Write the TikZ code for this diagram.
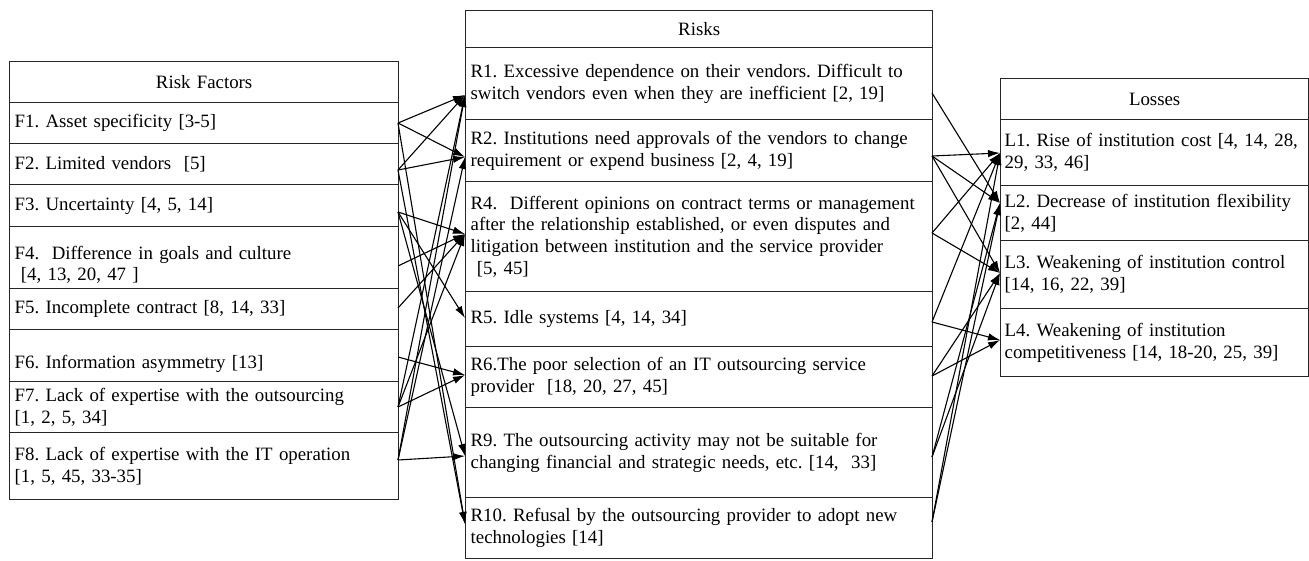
\documentclass[tikz,border=0pt]{standalone}
\usepackage{fontspec}
\setmainfont{Liberation Serif}
\usetikzlibrary{arrows.meta}
\frenchspacing
\begin{document}
\begin{tikzpicture}[x=1pt,y=-1pt,
  cell/.style={draw=black!85, line width=1.3pt, anchor=north west,
    inner xsep=5pt, inner ysep=0pt, align=left,
    font=\fontsize{18.85}{21.7}\selectfont},
  fcell/.style={cell, minimum width=389pt, text width=379pt},
  rcell/.style={cell, minimum width=467pt, text width=457pt},
  lcell/.style={cell, inner xsep=4pt, minimum width=308pt, text width=300pt},
  head/.style={align=center},
  conn/.style={line width=1.1pt, -{Latex[length=12pt,width=7.5pt]}}
]
\useasboundingbox (0,0) rectangle (1309,560);

% ---- Risk factors column ----
\node[fcell, head, minimum height=41pt] (FH) at (9,61) {Risk Factors};
\node[fcell, minimum height=41pt] (F1) at (9,102) {F1. Asset specificity [3-5]};
\node[fcell, minimum height=41pt] (F2) at (9,143) {F2. Limited vendors\ \ [5]};
\node[fcell, minimum height=42pt] (F3) at (9,184) {F3. Uncertainty [4, 5, 14]};
\node[fcell, minimum height=62pt, text depth=10pt] (F4) at (9,226) {F4.\ \ Difference in goals and culture\\\ [4, 13, 20, 47 ]};
\node[fcell, minimum height=41pt] (F5) at (9,288) {F5. Incomplete contract [8, 14, 33]};
\node[fcell, minimum height=52pt, text height=30pt] (F6) at (9,329) {F6. Information asymmetry [13]};
\node[fcell, minimum height=51pt] (F7) at (9,381) {F7. Lack of expertise with the outsourcing\\{}[1, 2, 5, 34]};
\node[fcell, minimum height=67pt] (F8) at (9,432) {F8. Lack of expertise with the IT operation\\{}[1, 5, 45, 33-35]};

% ---- Risks column ----
\node[rcell, head, minimum height=37pt] (RH) at (465,10) {Risks};
\node[rcell, minimum height=72pt] (R1) at (465,47) {R1. Excessive dependence on their vendors. Difficult to\\switch vendors even when they are inefficient [2, 19]};
\node[rcell, minimum height=62pt] (R2) at (465,119) {R2. Institutions need approvals of the vendors to change\\requirement or expend business [2, 4, 19]};
\node[rcell, minimum height=110pt] (R4) at (465,181) {R4.\ \ Different opinions on contract terms or management\\after the relationship established, or even disputes and\\litigation between institution and the service provider\\\ [5, 45]};
\node[rcell, minimum height=55pt] (R5) at (465,291) {R5. Idle systems [4, 14, 34]};
\node[rcell, minimum height=61pt] (R6) at (465,346) {R6.The poor selection of an IT outsourcing service\\provider\ \ [18, 20, 27, 45]};
\node[rcell, minimum height=90pt] (R9) at (465,407) {R9. The outsourcing activity may not be suitable for\\changing financial and strategic needs, etc. [14,\ \ 33]};
\node[rcell, minimum height=61pt] (R10) at (465,497) {R10. Refusal by the outsourcing provider to adopt new\\technologies [14]};

% ---- Losses column ----
\node[lcell, head, minimum height=41pt] (LH) at (1000,78) {Losses};
\node[lcell, minimum height=66pt] (L1) at (1000,119) {L1. Rise of institution cost [4, 14, 28,\\29, 33, 46]};
\node[lcell, minimum height=55pt] (L2) at (1000,185) {L2. Decrease of institution flexibility\\{}[2, 44]};
\node[lcell, minimum height=68pt] (L3) at (1000,240) {L3. Weakening of institution control\\{}[14, 16, 22, 39]};
\node[lcell, minimum height=68pt] (L4) at (1000,308) {L4. Weakening of institution\\competitiveness [14, 18-20, 25, 39]};

% ---- connector ports ----
\coordinate (F1o) at (398,123);
\coordinate (F2o) at (398,170);
\coordinate (F3o) at (398,212);
\coordinate (F4o) at (398,266);
\coordinate (F5o) at (398,308);
\coordinate (F6o) at (398,357);
\coordinate (F7o) at (398,407);
\coordinate (F8o) at (398,460);

\coordinate (R1i) at (465,95);
\coordinate (R2i) at (465,157);
\coordinate (R4i) at (465,234);
\coordinate (R5i) at (465,318);
\coordinate (R6i) at (465,375);
\coordinate (R9i) at (465,456);
\coordinate (R10i) at (465,524);

\coordinate (R1o) at (932,93);
\coordinate (R2o) at (932,156);
\coordinate (R4o) at (932,233);
\coordinate (R5o) at (932,322);
\coordinate (R6o) at (932,376);
\coordinate (R9o) at (932,457);
\coordinate (R10o) at (932,522);

\coordinate (L1i) at (1000,153);
\coordinate (L2i) at (1000,203);
\coordinate (L3i) at (1000,273);
\coordinate (L4i) at (1000,340);

% ---- factors -> risks ----
\foreach \s/\t in {F1o/R1i, F1o/R2i, F1o/R10i,
                   F2o/R1i, F2o/R2i, F2o/R10i,
                   F3o/R4i, F3o/R5i, F3o/R9i,
                   F4o/R4i, F5o/R4i, F6o/R6i,
                   F7o/R6i, F7o/R4i, F7o/R1i,
                   F8o/R9i, F8o/R2i, F8o/R1i}
  \draw[conn] (\s) -- (\t);

% ---- risks -> losses ----
\foreach \s/\t in {R1o/L2i,
                   R2o/L1i, R2o/L2i, R2o/L3i,
                   R4o/L1i, R4o/L3i,
                   R5o/L1i, R5o/L4i,
                   R6o/L3i, R6o/L4i,
                   R9o/L2i, R9o/L3i,
                   R10o/L1i, R10o/L2i}
  \draw[conn] (\s) -- (\t);
\end{tikzpicture}
\end{document}
